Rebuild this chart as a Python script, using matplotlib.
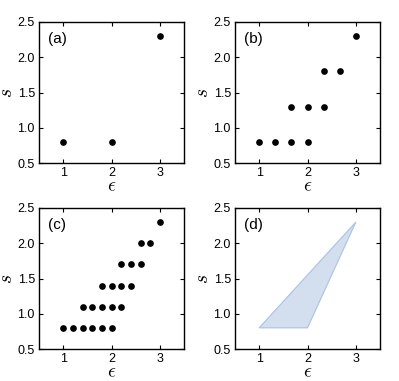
import numpy as np
import matplotlib
matplotlib.use('Agg')
from matplotlib import pyplot as plt

plt.rcParams['font.family'] = ['Liberation Sans', 'DejaVu Sans']
plt.rcParams['mathtext.fontset'] = 'cm'

# panel (a)
eps_a = [1, 2, 3]
s_a = [0.8, 0.8, 2.3]

# panel (b)
eps_b = [1, 4/3, 5/3, 2, 5/3, 2, 7/3, 7/3, 8/3, 3]
s_b = [0.8, 0.8, 0.8, 0.8, 1.3, 1.3, 1.3, 1.8, 1.8, 2.3]

# panel (c)
eps_c = [1.0, 1.2, 1.4, 1.6, 1.8, 2.0,
         1.4, 1.6, 1.8, 2.0, 2.2,
         1.8, 2.0, 2.2, 2.4,
         2.2, 2.4, 2.6,
         2.6, 2.8,
         3.0]
s_c = [0.8] * 6 + [1.1] * 5 + [1.4] * 4 + [1.7] * 3 + [2.0] * 2 + [2.3]

# panel (d) region
eps_d = [1, 2, 3]
s_d = [0.8, 0.8, 2.3]

fig = plt.figure(figsize=(3.99, 3.81), dpi=100)
W, H = 399, 381
boxes = [(39, 22, 184, 163), (235, 22, 380, 163),
         (39, 208, 184, 349), (235, 208, 380, 349)]
axes = []
for (x0, y0, x1, y1) in boxes:
    ax = fig.add_axes([x0 / W, 1 - y1 / H, (x1 - x0) / W, (y1 - y0) / H])
    axes.append(ax)

axes[0].plot(eps_a, s_a, 'o', color='black', ms=3.8)
axes[1].plot(eps_b, s_b, 'o', color='black', ms=3.8)
axes[2].plot(eps_c, s_c, 'o', color='black', ms=3.8)
axes[3].fill(eps_d, s_d, facecolor='#d3dfef', edgecolor='#a9c2e2', lw=0.8)

for ax, lab in zip(axes, ['(a)', '(b)', '(c)', '(d)']):
    ax.set_xlim(0.5, 3.5)
    ax.set_ylim(0.5, 2.5)
    ax.set_xticks([1, 2, 3])
    ax.set_yticks([0.5, 1.0, 1.5, 2.0, 2.5])
    ax.set_yticklabels(['0.5', '1.0', '1.5', '2.0', '2.5'])
    ax.tick_params(direction='in', top=True, right=True, labelsize=9,
                   length=3, width=0.8, pad=3)
    for sp in ax.spines.values():
        sp.set_linewidth(1.0)
    ax.set_xlabel(r'$\epsilon$', fontsize=14, labelpad=-1)
    ax.set_ylabel(r'$s$', fontsize=14, labelpad=1)
    ax.text(0.06, 0.93, lab, transform=ax.transAxes, fontsize=11,
            va='top', ha='left')

plt.savefig('out.png', dpi=100)
